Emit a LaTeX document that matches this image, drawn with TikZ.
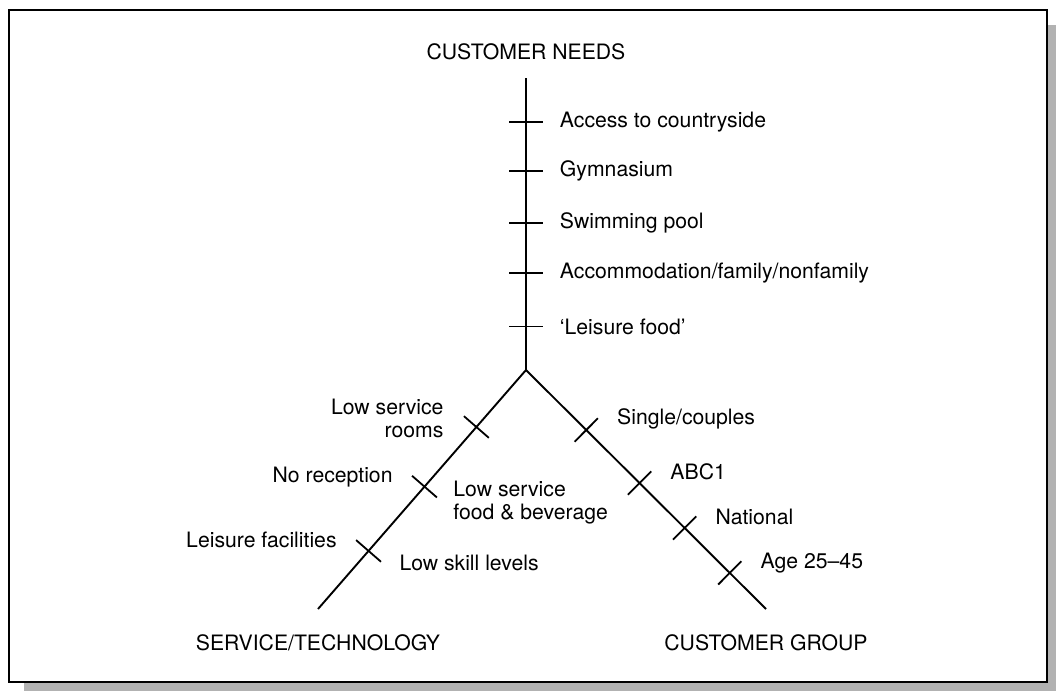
\documentclass[tikz,border=0pt]{standalone}
\usepackage{fontspec}
\setmainfont{TeX Gyre Heros}
\usetikzlibrary{positioning,calc}

\begin{document}
\begin{tikzpicture}[x=1pt, y=-1pt, line width=1.9pt,
                    lbl/.style={inner sep=0pt, font=\fontsize{21.2}{23.5}\selectfont},
                    notch/.style={line width=1.8pt}]
                    \useasboundingbox (0,0) rectangle (1056,691);
                    \fill[black!30] (24,25) rectangle (1056,691);
                    \draw[fill=white, line width=2pt] (9,10) rectangle (1047,682);
                    \coordinate (top) at (526,78);
                    \coordinate (j) at (526,370);
                    \coordinate (st) at (318,609);
                    \coordinate (cg) at (766,609);
                    \draw (top) -- (j) -- (st);
                    \draw (j) -- (cg);
                    \foreach \n/\y in {n1/122, n2/171, n3/223, n4/273, n5/326.5} {
                        \coordinate (\n) at (526,\y);
                        \draw[notch] ($(\n)+(-17,0)$) -- ($(\n)+(17,0)$);
                    }
                    \foreach \n/\t in {l1/0.2385, l2/0.488, l3/0.757} {
                        \coordinate (\n) at ($(j)!\t!(st)$);
                        \draw[notch] ($(\n)!16.5pt!90:(j)$) -- ($(\n)!16.5pt!-90:(j)$);
                    }
                    \foreach \n/\t in {r1/0.251, r2/0.473, r3/0.661, r4/0.849} {
                        \coordinate (\n) at ($(j)!\t!(cg)$);
                        \draw[notch] ($(\n)!16.5pt!90:(j)$) -- ($(\n)!16.5pt!-90:(j)$);
                    }
                    \node[lbl] (needs)[above=17pt of top] {CUSTOMER NEEDS};
                    \node[lbl] (acc)[right=33pt of n1] {Access to countryside};
                    \node[lbl] (gym)[right=33pt of n2] {Gymnasium};
                    \node[lbl] (pool)[right=33pt of n3] {Swimming pool};
                    \node[lbl] (acm)[right=33pt of n4] {Accommodation/family/nonfamily};
                    \node[lbl] (food)[right=33pt of n5] {‘Leisure food’};
                    \node[lbl, align=right] (rooms)[left=32pt of l1, yshift=8.5pt] {Low service\\rooms};
                    \node[lbl] (recp)[left=31pt of l2, yshift=10pt] {No reception};
                    \node[lbl, align=left] (fnb)[right=28pt of l2, yshift=-16pt] {Low service\\food \& beverage};
                    \node[lbl] (leis)[left=31pt of l3, yshift=11pt] {Leisure facilities};
                    \node[lbl] (skill)[right=30pt of l3, yshift=-12pt] {Low skill levels};
                    \node[lbl] (sing)[right=30pt of r1, yshift=11pt] {Single/couples};
                    \node[lbl] (abc)[right=30pt of r2, yshift=11pt] {ABC1};
                    \node[lbl] (nat)[right=30pt of r3, yshift=11pt] {National};
                    \node[lbl] (age)[right=30pt of r4, yshift=10pt] {Age 25–45};
                    \node[lbl] (serv)[below=25pt of st] {SERVICE/TECHNOLOGY};
                    \node[lbl] (group)[below=25pt of cg] {CUSTOMER GROUP};
                \end{tikzpicture}
\end{document}
